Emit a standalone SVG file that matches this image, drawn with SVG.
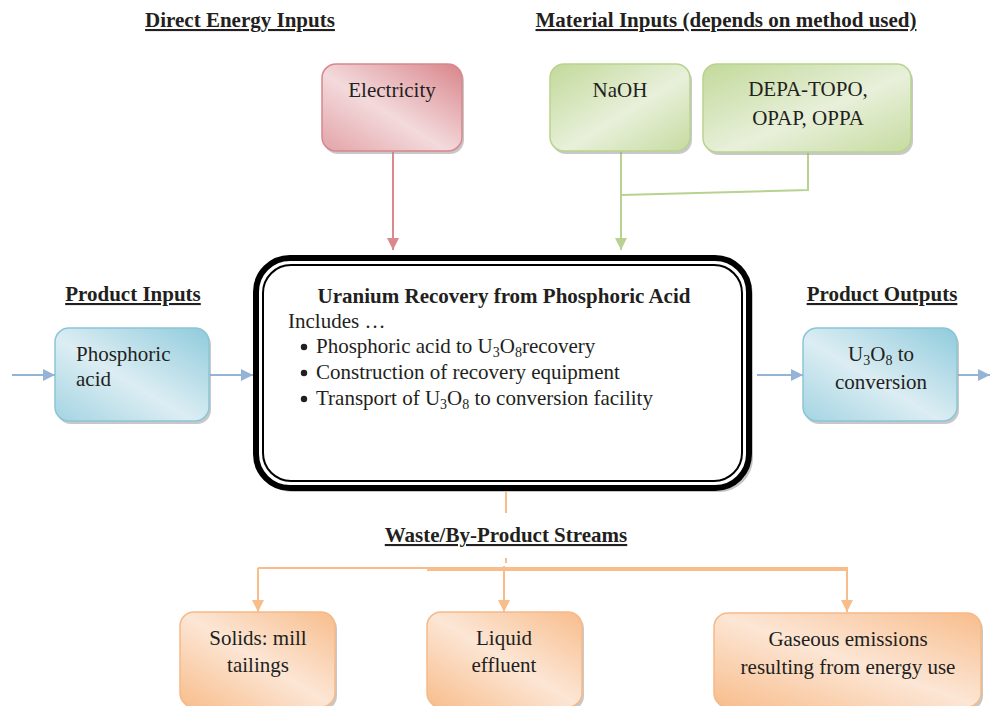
<svg xmlns="http://www.w3.org/2000/svg" width="990" height="706" viewBox="0 0 990 706">
  <style>
    text { font-family: "Liberation Serif", "Times New Roman", serif; fill: #231f20; font-size: 21px; }
    .head { font-weight: bold; text-decoration: underline; text-anchor: middle; }
    .mid { text-anchor: middle; }
    .title { font-weight: bold; text-anchor: middle; }
    .sub { font-size: 14px; }
    .shadow { fill: #9a9a9a; opacity: 0.55; }
    .red { fill: url(#gRed); stroke: #d8878c; stroke-width: 1.5; }
    .green { fill: url(#gGreen); stroke: #b9d38f; stroke-width: 1.5; }
    .blue { fill: url(#gBlue); stroke: #8cc5d6; stroke-width: 1.5; }
    .orange { fill: url(#gOrange); stroke: #f6b988; stroke-width: 1.5; }
    .cRed { stroke: #d98a8f; stroke-width: 2; fill: none; }
    .cGreen { stroke: #b8d291; stroke-width: 2; fill: none; }
    .cBlue { stroke: #95b3d7; stroke-width: 2; fill: none; }
    .cOrange { stroke: #f8bd8b; stroke-width: 2; fill: none; }
  </style>
  <defs>
    <linearGradient id="gRed" x1="1" y1="0" x2="0" y2="1">
      <stop offset="0" stop-color="#d9858b"/>
      <stop offset="0.55" stop-color="#f3dadc"/>
      <stop offset="1" stop-color="#e3a3a7"/>
    </linearGradient>
    <linearGradient id="gGreen" x1="0" y1="0" x2="1" y2="1">
      <stop offset="0" stop-color="#c2d99a"/>
      <stop offset="0.55" stop-color="#e8f0da"/>
      <stop offset="1" stop-color="#c6dba0"/>
    </linearGradient>
    <linearGradient id="gBlue" x1="1" y1="0" x2="0" y2="1">
      <stop offset="0" stop-color="#8fcbdc"/>
      <stop offset="0.55" stop-color="#dcedf3"/>
      <stop offset="1" stop-color="#a3d4e2"/>
    </linearGradient>
    <linearGradient id="gOrange" x1="0" y1="1" x2="1" y2="0">
      <stop offset="0" stop-color="#f8bd8c"/>
      <stop offset="0.5" stop-color="#fce6d5"/>
      <stop offset="1" stop-color="#f8bd8c"/>
    </linearGradient>
    <marker id="aRed" markerWidth="14" markerHeight="14" refX="12" refY="6" orient="auto" markerUnits="userSpaceOnUse">
      <path d="M0,0 L12,6 L0,12 Z" fill="#d98a8f"/>
    </marker>
    <marker id="aGreen" markerWidth="14" markerHeight="14" refX="12" refY="6" orient="auto" markerUnits="userSpaceOnUse">
      <path d="M0,0 L12,6 L0,12 Z" fill="#b8d291"/>
    </marker>
    <marker id="aBlue" markerWidth="14" markerHeight="14" refX="12" refY="6" orient="auto" markerUnits="userSpaceOnUse">
      <path d="M0,0 L12,6 L0,12 Z" fill="#95b3d7"/>
    </marker>
    <marker id="aOrange" markerWidth="14" markerHeight="14" refX="12" refY="6" orient="auto" markerUnits="userSpaceOnUse">
      <path d="M0,0 L12,6 L0,12 Z" fill="#f8bd8b"/>
    </marker>
  </defs>

  <rect width="990" height="706" fill="#ffffff"/>

  <!-- section headings -->
  <g id="headings">
    <text class="head" x="240" y="27">Direct Energy Inputs</text>
    <text class="head" x="726" y="27">Material Inputs (depends on method used)</text>
    <text class="head" x="133" y="301">Product Inputs</text>
    <text class="head" x="882" y="301">Product Outputs</text>
    <text class="head" x="506" y="542">Waste/By-Product Streams</text>
  </g>

  <!-- connectors -->
  <g id="connectors">
    <path class="cRed" d="M393,152 V250" marker-end="url(#aRed)"/>
    <path class="cGreen" d="M621,152 V250" marker-end="url(#aGreen)"/>
    <path class="cGreen" d="M808,153 V190 L621,195"/>
    <path class="cBlue" d="M12,375 H55" marker-end="url(#aBlue)"/>
    <path class="cBlue" d="M210,375 H253" marker-end="url(#aBlue)"/>
    <path class="cBlue" d="M757,375 H803" marker-end="url(#aBlue)"/>
    <path class="cBlue" d="M958,375 H990" marker-end="url(#aBlue)"/>
    <path class="cOrange" d="M506,492 V513"/>
    <path class="cOrange" d="M506,558 V563"/>
    <path class="cOrange" d="M258,568 H847 V612" marker-end="url(#aOrange)"/>
    <path class="cOrange" d="M258,568 V612" marker-end="url(#aOrange)"/>
    <path class="cOrange" d="M504,566 V612" marker-end="url(#aOrange)"/>
    <path class="cOrange" d="M427,570 H847"/>
  </g>

  <!-- energy input -->
  <g id="electricity">
    <rect class="shadow" x="324" y="67" width="140" height="87" rx="14"/>
    <rect class="red" x="322" y="64" width="140" height="87" rx="14"/>
    <text class="mid" x="392" y="97">Electricity</text>
  </g>

  <!-- material inputs -->
  <g id="naoh">
    <rect class="shadow" x="552" y="67" width="140" height="87" rx="14"/>
    <rect class="green" x="550" y="64" width="140" height="87" rx="14"/>
    <text class="mid" x="620" y="97">NaOH</text>
  </g>
  <g id="extractants">
    <rect class="shadow" x="705" y="67" width="208" height="88" rx="14"/>
    <rect class="green" x="703" y="64" width="208" height="88" rx="14"/>
    <text class="mid" x="808" y="96">DEPA-TOPO,</text>
    <text class="mid" x="808" y="125">OPAP, OPPA</text>
  </g>

  <!-- product input / output -->
  <g id="phosphoric-acid">
    <rect class="shadow" x="57" y="331" width="154" height="93" rx="14"/>
    <rect class="blue" x="55" y="328" width="154" height="93" rx="14"/>
    <text x="76" y="361">Phosphoric</text>
    <text x="76" y="386">acid</text>
  </g>
  <g id="u3o8-output">
    <rect class="shadow" x="805" y="331" width="154" height="93" rx="14"/>
    <rect class="blue" x="803" y="328" width="154" height="93" rx="14"/>
    <text class="mid" x="881" y="361">U<tspan class="sub" dy="4">3</tspan><tspan dy="-4">O</tspan><tspan class="sub" dy="4">8</tspan><tspan dy="-4"> to</tspan></text>
    <text class="mid" x="881" y="389">conversion</text>
  </g>

  <!-- central process -->
  <g id="process">
    <rect x="259" y="261" width="494" height="231" rx="34" fill="#c4c4c4"/>
    <rect x="256" y="258" width="493" height="230" rx="34" fill="#ffffff" stroke="#000000" stroke-width="6"/>
    <rect x="263" y="265" width="479" height="216" rx="28" fill="none" stroke="#000000" stroke-width="2"/>
    <text class="title" x="504" y="303">Uranium Recovery from Phosphoric Acid</text>
    <text x="288" y="328">Includes …</text>
    <circle cx="304" cy="347" r="3.2" fill="#231f20"/>
    <text x="316" y="353">Phosphoric acid to U<tspan class="sub" dy="4">3</tspan><tspan dy="-4">O</tspan><tspan class="sub" dy="4">8</tspan><tspan dy="-4">recovery</tspan></text>
    <circle cx="304" cy="373" r="3.2" fill="#231f20"/>
    <text x="316" y="379">Construction of recovery equipment</text>
    <circle cx="304" cy="399" r="3.2" fill="#231f20"/>
    <text x="316" y="405">Transport of U<tspan class="sub" dy="4">3</tspan><tspan dy="-4">O</tspan><tspan class="sub" dy="4">8</tspan><tspan dy="-4"> to conversion facility</tspan></text>
  </g>

  <!-- waste streams -->
  <g id="solids">
    <rect class="shadow" x="182" y="615" width="155" height="95" rx="14"/>
    <rect class="orange" x="180" y="612" width="155" height="95" rx="14"/>
    <text class="mid" x="258" y="645">Solids: mill</text>
    <text class="mid" x="258" y="672">tailings</text>
  </g>
  <g id="liquid">
    <rect class="shadow" x="429" y="615" width="155" height="95" rx="14"/>
    <rect class="orange" x="427" y="612" width="155" height="95" rx="14"/>
    <text class="mid" x="504" y="645">Liquid</text>
    <text class="mid" x="504" y="672">effluent</text>
  </g>
  <g id="gaseous">
    <rect class="shadow" x="716" y="616" width="267" height="94" rx="14"/>
    <rect class="orange" x="714" y="613" width="267" height="94" rx="14"/>
    <text class="mid" x="848" y="646">Gaseous emissions</text>
    <text class="mid" x="848" y="674">resulting from energy use</text>
  </g>
</svg>
